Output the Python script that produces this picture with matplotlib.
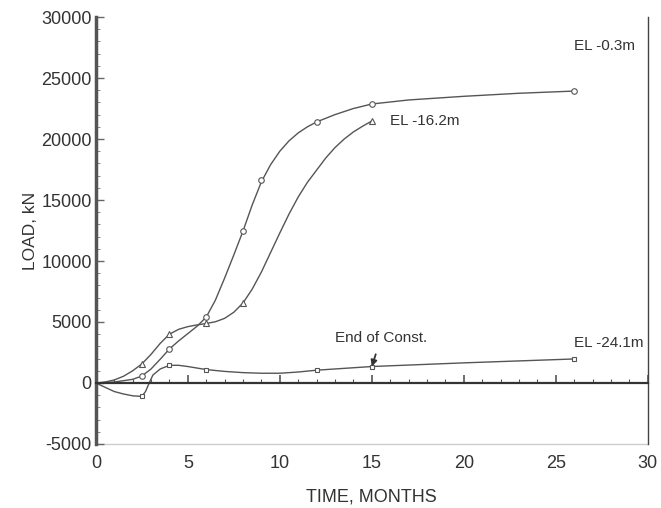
import numpy as np
import matplotlib
matplotlib.use("Agg")
import matplotlib.pyplot as plt
from matplotlib.ticker import MultipleLocator

plt.rcParams['font.family'] = ['Liberation Sans', 'DejaVu Sans']
plt.rcParams['axes.unicode_minus'] = False

# curve (months, kN)
t_03 = [0, 1, 2, 2.5, 3, 3.5, 4, 4.5, 5, 5.5, 6, 6.5, 7, 7.5, 8, 8.5, 9, 9.5, 10, 10.5,
        11, 11.5, 12, 13, 14, 15, 17, 20, 23, 26]
load_03 = [0, 80, 300, 570, 1150, 1950, 2790, 3450, 4050, 4650, 5400, 6800, 8600, 10500,
           12460, 14600, 16500, 17900, 19000, 19850, 20500, 21000, 21400, 22000, 22500,
           22870, 23200, 23500, 23750, 23930]
# measured points
mt_03 = [2.5, 4, 6, 8, 9, 12, 15, 26]
ml_03 = [570, 2790, 5400, 12460, 16600, 21400, 22870, 23930]

t_162 = [0, 0.5, 1, 1.5, 2, 2.5, 3, 3.5, 4, 4.5, 5, 5.5, 6, 6.5, 7, 7.5, 8, 8.5, 9, 9.5,
         10, 10.5, 11, 11.5, 12, 12.5, 13, 13.5, 14, 14.5, 15]
load_162 = [0, 80, 250, 550, 1000, 1560, 2350, 3250, 4000, 4400, 4620, 4760, 4880, 5020,
            5300, 5800, 6560, 7700, 9100, 10700, 12300, 13850, 15250, 16450, 17450, 18450,
            19300, 20000, 20580, 21050, 21475]
mt_162 = [2.5, 4, 6, 8, 15]
ml_162 = [1560, 4000, 4880, 6560, 21475]

t_241 = [0, 0.5, 1, 1.5, 2, 2.5, 2.7, 2.9, 3.1, 3.5, 4, 4.5, 5, 6, 7, 8, 9, 10, 11, 12,
         15, 20, 26]
load_241 = [0, -350, -700, -900, -1050, -1100, -700, 0, 650, 1150, 1450, 1450, 1350, 1100,
            950, 850, 800, 800, 900, 1050, 1350, 1650, 1970]
mt_241 = [2.5, 4, 6, 12, 15, 26]
ml_241 = [-1100, 1450, 1100, 1050, 1350, 1970]

line_col = '#555555'
txt_col = '#333333'

fig = plt.figure(figsize=(6.61, 5.08), dpi=100)
ax = fig.add_axes([0.145, 0.126, 0.835, 0.8405])

ax.plot(t_03, load_03, color=line_col, lw=1.0)
ax.plot(mt_03, ml_03, 'o', ms=4, mfc='white', mec=line_col, mew=0.8)
ax.plot(t_162, load_162, color=line_col, lw=1.0)
ax.plot(mt_162, ml_162, '^', ms=4.5, mfc='white', mec=line_col, mew=0.8)
ax.plot(t_241, load_241, color=line_col, lw=1.0)
ax.plot(mt_241, ml_241, 's', ms=3.5, mfc='white', mec=line_col, mew=0.8)

ax.set_xlim(0, 30)
ax.set_ylim(-5000, 30000)

# x axis drawn through zero, labels at the bottom
ax.spines['bottom'].set_position(('data', 0))
ax.spines['bottom'].set_color('#333333')
ax.spines['bottom'].set_linewidth(1.6)
ax.spines['top'].set_visible(False)
ax.spines['right'].set_color('#444444')
ax.spines['right'].set_linewidth(1.0)
ax.spines['left'].set_color('#555555')
ax.spines['left'].set_linewidth(2.5)

ax.xaxis.set_major_locator(MultipleLocator(5))
ax.xaxis.set_minor_locator(MultipleLocator(1))
ax.tick_params(axis='x', which='both', direction='in', labelbottom=False, colors='#555555')
ax.tick_params(axis='x', which='major', length=6, width=1.2)
ax.tick_params(axis='x', which='minor', length=3, width=0.8)

ax.yaxis.set_major_locator(MultipleLocator(5000))
ax.yaxis.set_minor_locator(MultipleLocator(1000))
ax.tick_params(axis='y', which='major', direction='in', length=6, width=1.0,
               labelsize=13, labelcolor=txt_col, colors='#666666', pad=3)
ax.tick_params(axis='y', which='minor', direction='in', length=3, width=0.7, colors='#888888')

sec = ax.secondary_xaxis(0.0)
sec.set_xticks([0, 5, 10, 15, 20, 25, 30])
sec.tick_params(length=0, labelsize=13, labelcolor=txt_col, pad=8)
sec.spines['bottom'].set_color('#cccccc')
sec.spines['bottom'].set_linewidth(1.0)
sec.set_xlabel('TIME, MONTHS', fontsize=13, color=txt_col, labelpad=12)

ax.set_ylabel('LOAD, kN', fontsize=12.5, color=txt_col, labelpad=2)

ax.text(26.0, 27600, 'EL -0.3m', fontsize=11, color=txt_col, va='center')
ax.text(16.0, 21500, 'EL -16.2m', fontsize=11, color=txt_col, va='center')
ax.text(26.0, 3300, 'EL -24.1m', fontsize=11, color=txt_col, va='center')
ax.annotate('End of Const.', xy=(15, 1350), xytext=(15.5, 3700), fontsize=11, color=txt_col,
            ha='center', va='center',
            arrowprops=dict(arrowstyle='-|>', color='#333333', lw=1.3,
                            shrinkA=5, shrinkB=0, mutation_scale=9))

fig.savefig('out.png', dpi=100)
